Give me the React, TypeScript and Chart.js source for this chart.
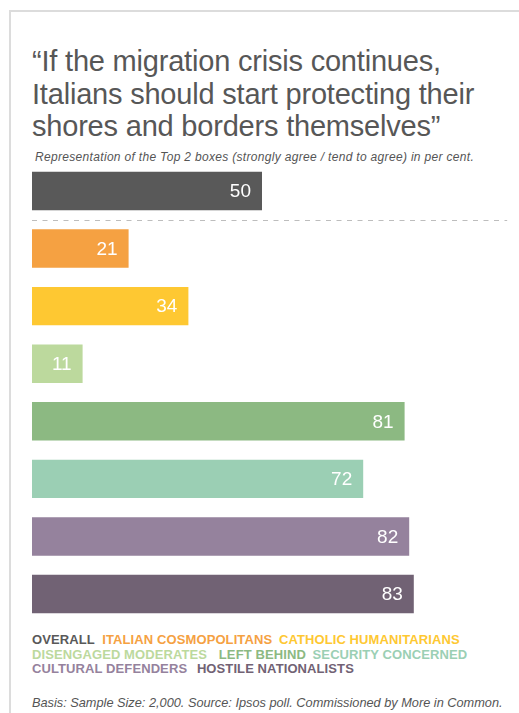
import React, { useEffect, useRef } from "react";
import { Chart, registerables } from "chart.js";

Chart.register(...registerables);

const titleLines = [
  "\u201CIf the migration crisis continues,",
  "Italians should start protecting their",
  "shores and borders themselves\u201D",
];
const subtitle =
  "Representation of the Top 2 boxes (strongly agree / tend to agree) in per cent.";
const footer =
  "Basis: Sample Size: 2,000. Source: Ipsos poll. Commissioned by More in Common.";

const categories = [
  "OVERALL",
  "ITALIAN COSMOPOLITANS",
  "CATHOLIC HUMANITARIANS",
  "DISENGAGED MODERATES",
  "LEFT BEHIND",
  "SECURITY CONCERNED",
  "CULTURAL DEFENDERS",
  "HOSTILE NATIONALISTS",
];
const values = [50, 21, 34, 11, 81, 72, 82, 83];
const colors = [
  "#595959",
  "#f5a142",
  "#fec832",
  "#bcd99d",
  "#8cb982",
  "#9bcfb4",
  "#95829d",
  "#716274",
];
const legendLines = [[0, 1, 2], [3, 4, 5], [6, 7]];
const legendGaps = [4, 3, 0, 8, 3, 0, 6, 0];

const FONT = "'Liberation Sans', Arial, Helvetica, sans-serif";

const valueLabels = {
  id: "valueLabels",
  afterDatasetsDraw(chart: any) {
    const ctx = chart.ctx;
    const meta = chart.getDatasetMeta(0);
    ctx.save();
    ctx.fillStyle = "#ffffff";
    ctx.font = `19px ${FONT}`;
    ctx.textAlign = "right";
    ctx.textBaseline = "middle";
    meta.data.forEach((bar: any, i: number) => {
      ctx.fillText(String(values[i]), bar.x - 11, bar.y + 1);
    });
    ctx.restore();
  },
};

const separator = {
  id: "separator",
  afterDatasetsDraw(chart: any) {
    const ctx = chart.ctx;
    const y0 = chart.scales.y.getPixelForValue(0);
    const y1 = chart.scales.y.getPixelForValue(1);
    const y = Math.round((y0 + y1) / 2) + 0.5;
    const xs = chart.scales.x;
    ctx.save();
    ctx.strokeStyle = "#bdbdbd";
    ctx.lineWidth = 1;
    ctx.setLineDash([5, 5.5]);
    ctx.beginPath();
    ctx.moveTo(xs.getPixelForValue(0), y);
    ctx.lineTo(xs.getPixelForValue(103.3), y);
    ctx.stroke();
    ctx.restore();
  },
};

export default function App() {
  const ref = useRef<HTMLCanvasElement | null>(null);

  useEffect(() => {
    if (!ref.current) return;
    const chart = new Chart(ref.current, {
      type: "bar",
      data: {
        labels: categories,
        datasets: [
          {
            data: values,
            backgroundColor: colors,
            borderWidth: 0,
            barPercentage: 0.668,
            categoryPercentage: 1,
          },
        ],
      },
      options: {
        indexAxis: "y",
        animation: false,
        responsive: false,
        maintainAspectRatio: false,
        devicePixelRatio: 1,
        layout: { padding: { left: 32, right: 27, top: 12.2, bottom: 7.2 } },
        scales: {
          x: { min: 0, max: 100, display: false },
          y: { display: false },
        },
        plugins: {
          legend: { display: false },
          tooltip: { enabled: false },
          title: { display: false },
        },
      } as any,
      plugins: [valueLabels, separator],
    });
    return () => chart.destroy();
  }, []);

  return (
    <div
      style={{
        position: "absolute",
        left: 0,
        top: 0,
        width: 519,
        height: 713,
        overflow: "hidden",
        background: "#fff",
        fontFamily: FONT,
      }}
    >
      <div
        style={{
          position: "absolute",
          left: 9,
          top: 10,
          width: 540,
          height: 740,
          borderLeft: "2px solid #dcdcdc",
          borderTop: "2px solid #dcdcdc",
          boxSizing: "border-box",
        }}
      />
      <div
        style={{
          position: "absolute",
          left: 32,
          top: 45.4,
          fontSize: 29,
          lineHeight: "32.5px",
          letterSpacing: "-0.2px",
          color: "#575757",
          whiteSpace: "nowrap",
        }}
      >
        {titleLines.map((t, i) => (
          <div key={i}>{t}</div>
        ))}
      </div>
      <div
        style={{
          position: "absolute",
          left: 35,
          top: 150.5,
          fontSize: 12,
          lineHeight: "12px",
          letterSpacing: "0.32px",
          fontStyle: "italic",
          color: "#555",
          whiteSpace: "nowrap",
        }}
      >
        {subtitle}
      </div>
      <canvas
        ref={ref}
        width={519}
        height={480}
        style={{ position: "absolute", left: 0, top: 150, width: 519, height: 480 }}
      />
      <div
        style={{
          position: "absolute",
          left: 32,
          top: 633,
          fontSize: 13,
          lineHeight: "14.5px",
          letterSpacing: "0.1px",
          fontWeight: "bold",
          whiteSpace: "nowrap",
        }}
      >
        {legendLines.map((line, li) => (
          <div key={li}>
            {line.map((idx, k) => (
              <span
                key={idx}
                style={{ color: colors[idx], marginRight: k < line.length - 1 ? legendGaps[idx] : 0 }}
              >
                {categories[idx]}
                {k < line.length - 1 ? " " : ""}
              </span>
            ))}
          </div>
        ))}
      </div>
      <div
        style={{
          position: "absolute",
          left: 32,
          top: 695.6,
          fontSize: 12.75,
          lineHeight: "14px",
          fontStyle: "italic",
          color: "#555",
          whiteSpace: "nowrap",
        }}
      >
        {footer}
      </div>
    </div>
  );
}
